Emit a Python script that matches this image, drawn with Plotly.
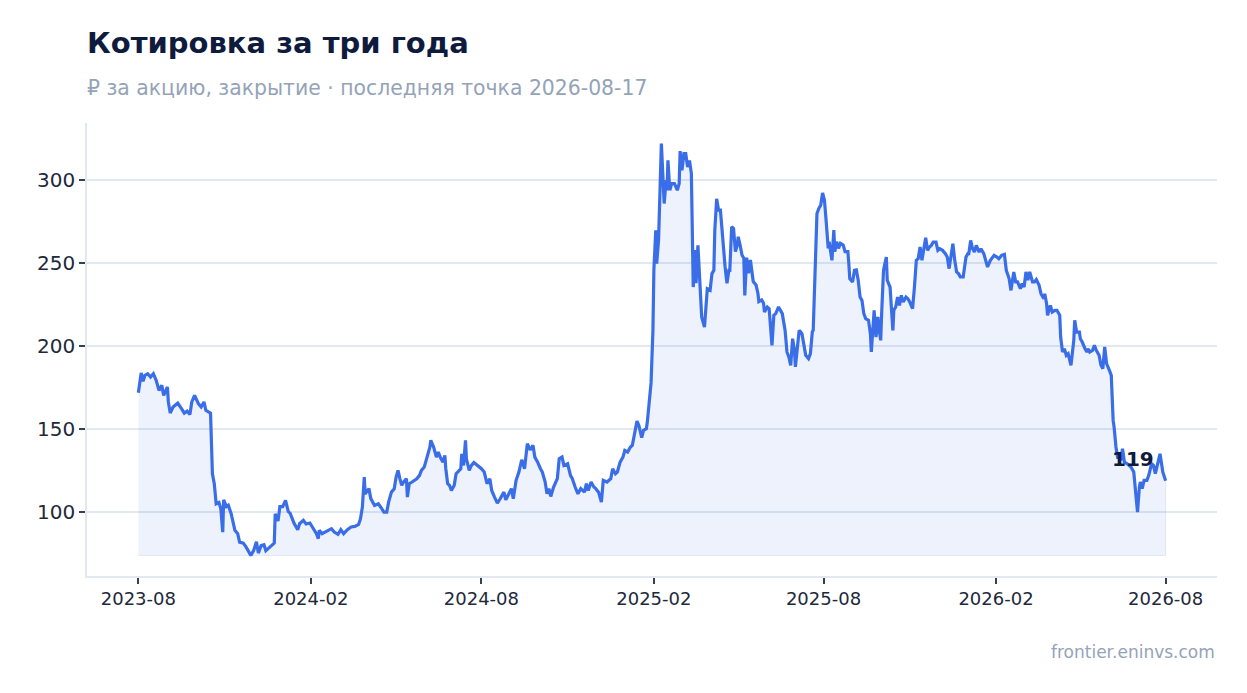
import pandas as pd
import plotly.graph_objects as go

start_date = "2023-08-17"
day_offsets = [
    0, 1, 3, 5, 7, 10, 13, 16, 19, 22,
    25, 27, 31, 32, 34, 37, 42, 46, 49, 52,
    55, 57, 60, 64, 67, 70, 72, 77, 79, 81,
    83, 86, 88, 90, 91, 94, 96, 99, 103, 106,
    108, 112, 115, 120, 123, 126, 128, 131, 134, 136,
    140, 145, 146, 149, 151, 154, 157, 160, 162, 166,
    170, 172, 176, 179, 183, 186, 190, 192, 193, 196,
    200, 206, 209, 213, 216, 219, 223, 227, 231, 235,
    237, 239, 241, 242, 246, 248, 252, 256, 259, 262,
    265, 267, 270, 273, 275, 277, 279, 281, 283, 286,
    287, 289, 292, 295, 297, 300, 302, 305, 308, 311,
    312, 315, 318, 320, 322, 325, 327, 328, 330, 332,
    334, 337, 339, 341, 344, 345, 347, 349, 350, 353,
    355, 358, 362, 366, 369, 372, 375, 377, 380, 383,
    386, 390, 392, 395, 398, 400, 403, 406, 409, 412,
    415, 418, 421, 423, 426, 429, 431, 434, 436, 438,
    440, 443, 447, 449, 452, 454, 458, 461, 463, 466,
    469, 472, 476, 478, 480, 483, 486, 488, 491, 494,
    496, 500, 504, 506, 509, 511, 514, 517, 519, 522,
    525, 527, 529, 532, 534, 537, 539, 542, 543, 545,
    547, 549, 550, 552, 553, 555, 556, 558, 560, 561,
    563, 564, 565, 567, 569, 572, 575, 577, 578, 580,
    582, 584, 586, 588, 590, 591, 592, 594, 595, 597,
    599, 601, 604, 606, 607, 610, 612, 614, 615, 617,
    619, 621, 623, 624, 626, 628, 630, 631, 633, 635,
    637, 639, 640, 642, 644, 646, 647, 649, 651, 653,
    655, 656, 659, 661, 662, 665, 667, 668, 671, 673,
    676, 678, 680, 683, 685, 687, 690, 692, 694, 696,
    698, 700, 701, 703, 705, 708, 710, 712, 715, 717,
    719, 720, 722, 724, 726, 728, 730, 732, 734, 736,
    737, 740, 742, 743, 745, 747, 749, 752, 754, 757,
    758, 759, 762, 764, 766, 768, 770, 772, 774, 776,
    779, 781, 782, 784, 785, 787, 789, 790, 792, 793,
    795, 798, 799, 802, 803, 805, 806, 808, 810, 812,
    814, 816, 819, 821, 823, 826, 828, 830, 832, 834,
    836, 838, 840, 842, 844, 846, 848, 851, 853, 855,
    858, 861, 863, 865, 868, 869, 871, 873, 875, 877,
    880, 881, 883, 885, 886, 888, 890, 892, 894, 897,
    899, 902, 904, 906, 909, 913, 916, 918, 921, 924,
    926, 929, 931, 934, 936, 938, 941, 943, 945, 947,
    949, 951, 954, 956, 958, 961, 963, 966, 967, 969,
    970, 973, 975, 978, 980, 983, 984, 986, 988, 990,
    992, 994, 995, 998, 999, 1001, 1004, 1005, 1007, 1010,
    1012, 1013, 1015, 1018, 1020, 1022, 1025, 1027, 1029, 1031,
    1033, 1036, 1038, 1040, 1041, 1043, 1045, 1046, 1048, 1050,
    1052, 1055, 1059, 1062, 1064, 1066, 1068, 1069, 1071, 1073,
    1076, 1078, 1081, 1083, 1085, 1088, 1090, 1093, 1095, 1096,
]
close = [
    172, 177.5, 184, 179, 182.5, 183.5, 181.5, 183.5, 179.5, 173.5,
    176.5, 170.5, 175.5, 166.5, 159.8, 163.5, 165.8, 162.5, 159.8, 161,
    159, 166.5, 170.5, 165.5, 163.5, 166.5, 161.5, 159.8, 123.3, 117.3,
    105.2, 106, 102.2, 88.1, 107.6, 103.5, 104.3, 99.2, 89.2, 87.2,
    82.1, 81.5, 79.1, 74.1, 77, 82.3, 75.5, 80, 80.5, 77,
    79, 81.5, 99.2, 94.8, 103.5, 103.5, 107.2, 100.4, 99.4, 93.6,
    89.6, 93.2, 95.2, 93, 93.6, 91.2, 87.2, 84.2, 89.2, 87.2,
    88.6, 90.2, 88.2, 86.8, 89.6, 87.2, 89.6, 91.2, 91.6, 92.8,
    96.2, 103.2, 121.3, 111.2, 114.3, 108.3, 104.2, 105.2, 102.8, 100.2,
    100.2, 106.2, 112.2, 114.2, 121.3, 125.3, 120.3, 116.3, 118.3, 120.3,
    109.2, 117.3, 118.3, 119.3, 120.3, 122.3, 125.3, 127.3, 133.3, 139.3,
    143.4, 139.3, 133.3, 136.3, 133.3, 130.3, 134.3, 126.3, 117.3, 116.3,
    113.2, 116.3, 123.3, 124.3, 126.3, 135.3, 128.3, 143.4, 132.3, 125.3,
    128, 130, 128.3, 126.3, 124.3, 117.3, 120.3, 113.2, 109.2, 105.6,
    108.2, 112.2, 107.6, 111.2, 114.3, 108.2, 119.3, 124.3, 131.7, 126.3,
    141.4, 137.7, 140.4, 133.3, 130.3, 126.3, 124.3, 118.3, 111.2, 114.3,
    109.6, 115.3, 120.3, 132.3, 133.3, 128.3, 129.3, 122.3, 120.3, 115.3,
    111.2, 114.3, 112.2, 117.3, 113.2, 118.3, 115.3, 114.3, 112.2, 106.2,
    119.3, 118.3, 120.3, 126.3, 123.3, 124.3, 130.3, 133.3, 137.3, 136.3,
    139.4, 140.4, 147.4, 155, 152.4, 145, 149.4, 150.4, 154.4, 164.5,
    178, 209.6, 245.8, 269.9, 249.8, 264, 290, 322.1, 298, 286,
    300, 294, 312, 294, 298, 298, 294, 298, 317.6, 306,
    316, 316, 308, 312, 304, 260, 235.7, 258, 238, 260.8,
    240, 217.7, 211.6, 230, 234.7, 233.8, 243.8, 245.8, 269.9, 288.9,
    282, 282, 266, 264, 247.8, 238, 245.8, 245.8, 272, 271,
    257, 261, 266, 261, 255, 253, 230.7, 253.4, 244, 252,
    244, 239, 237, 232, 227, 228, 226, 220.7, 223.7, 222.7,
    200.6, 218.7, 219.7, 223.7, 221.7, 219.7, 209.6, 196.6, 193.6, 188.6,
    204.6, 197.6, 187.6, 201.6, 209.6, 207.6, 201.6, 194.6, 192.6, 195.6,
    208.6, 209.6, 245, 280, 283, 285, 292.4, 288, 274, 259,
    263, 251.8, 270, 257, 263, 259, 262, 261, 257, 257,
    249.8, 240.8, 238.8, 245.8, 246, 239.8, 229.7, 227.7, 219.7, 216.7,
    215.7, 207.6, 196.6, 211.6, 221.7, 205.6, 217.7, 211.6, 203.6, 219.7,
    245.8, 253.8, 239.8, 235.7, 223.7, 209.6, 221.7, 223.7, 229.7, 224.7,
    230.7, 226.7, 229.7, 228.7, 226.7, 222.7, 235.7, 251.8, 252.8, 259.8,
    251.8, 257.8, 265.4, 257.8, 259.8, 260.8, 262.8, 262.8, 257.8, 258.8,
    257.8, 255.8, 253.8, 246.8, 256.8, 261.8, 251.8, 244.8, 243.8, 241.8,
    241.8, 246.8, 253.8, 255.8, 255.8, 263.8, 258.8, 256.8, 260.8, 256.8,
    258.8, 255.8, 250.8, 247.8, 251.8, 254.8, 253.8, 252.8, 254.8, 255.4,
    245.8, 240.8, 233.7, 244.8, 238.8, 238.8, 234.7, 237.8, 235.7, 244.8,
    239.8, 244.8, 238.8, 238.8, 240.2, 236.7, 231.7, 228.7, 231.7, 225.7,
    218.7, 224.7, 220.7, 221.7, 221.7, 218.7, 205.6, 196.6, 198.6, 194.6,
    195.6, 190.6, 188.6, 203.6, 215.7, 208.6, 208.6, 204.6, 202.6, 198.6,
    196.6, 198.6, 196.6, 197.6, 200.6, 197.6, 194.6, 188.6, 186.6, 199.6,
    189.6, 185.6, 182.5, 155.4, 151.4, 139.4, 132.3, 135.3, 131.3, 138.4,
    130.3, 129.3, 127.3, 124.3, 113.2, 100.2, 115.3, 118.3, 114.3, 119.3,
    119.3, 122.3, 129.3, 128.3, 123.3, 130.3, 135.3, 124.3, 119.7, 119,
]
tick_labels = ["2023-08", "2024-02", "2024-08", "2025-02", "2025-08", "2026-02", "2026-08"]
y_ticks = [100, 150, 200, 250, 300]

n = min(len(day_offsets), len(close))
dates = pd.Timestamp(start_date) + pd.to_timedelta(day_offsets[:n], unit="D")
vals = close[:n]

LINE = "#3a6ee8"
FILL = "rgba(58,110,232,0.09)"

vmin, vmax = min(vals), max(vals)
ypad = (vmax - vmin) * 0.05
t0, t1 = dates[0], dates[-1]
xpad = (t1 - t0) * 0.05

tick_vals = [pd.Timestamp(lbl + "-" + start_date[-2:]) for lbl in tick_labels]

fig = go.Figure()
# filled area down to the series minimum
fig.add_trace(go.Scatter(
    x=list(dates) + [t1, t0],
    y=list(vals) + [vmin, vmin],
    fill="toself", fillcolor=FILL,
    line=dict(color="rgba(58,110,232,0.12)", width=1),
    mode="lines", hoverinfo="skip", showlegend=False,
))
fig.add_trace(go.Scatter(
    x=dates, y=vals, mode="lines",
    line=dict(color=LINE, width=3.2), showlegend=False,
))

fig.add_annotation(
    x=t1, y=vals[-1], text="<b>%d</b>" % round(vals[-1]),
    showarrow=False, xanchor="right", yanchor="bottom",
    xshift=-10, yshift=8,
    font=dict(size=20, color="#0f1b3d", family="DejaVu Sans"),
)
fig.add_annotation(
    xref="paper", yref="paper", x=0, y=1, xanchor="left", yanchor="middle",
    yshift=80, xshift=-2, text="<b>Котировка за три года</b>", showarrow=False,
    font=dict(size=29, color="#0f1b3d", family="DejaVu Sans"),
)
fig.add_annotation(
    xref="paper", yref="paper", x=0, y=1, xanchor="left", yanchor="middle",
    yshift=35, xshift=-2, text="₽ за акцию, закрытие · последняя точка 2026-08-17", showarrow=False,
    font=dict(size=20.4, color="#94a3b8", family="DejaVu Sans"),
)
fig.add_annotation(
    xref="paper", yref="paper", x=1, y=0, xanchor="right", yanchor="middle",
    yshift=-76, text="frontier.eninvs.com", showarrow=False,
    font=dict(size=17, color="#94a3b8", family="DejaVu Sans"),
)

fig.update_layout(
    width=1239, height=685,
    margin=dict(l=79, r=30, t=115, b=117),
    paper_bgcolor="white", plot_bgcolor="white",
    font=dict(family="DejaVu Sans", color="#1e293b"),
    showlegend=False,
)
fig.update_xaxes(
    range=[t0 - xpad, t1 + xpad],
    tickvals=tick_vals, ticktext=tick_labels,
    showgrid=False, showline=True, linecolor="#e2e8f0", linewidth=1.5,
    ticks="outside", ticklen=6, tickcolor="#334155", tickwidth=1.5,
    tickfont=dict(size=18, color="#1e293b"),
    zeroline=False,
)
fig.update_yaxes(
    range=[vmin - ypad, vmax + ypad],
    tickvals=y_ticks,
    showgrid=True, gridcolor="#e2e8f0", gridwidth=1.5,
    showline=True, linecolor="#e2e8f0", linewidth=1.5,
    ticks="outside", ticklen=6, tickcolor="#334155", tickwidth=1.5,
    tickfont=dict(size=20, color="#1e293b"),
    zeroline=False,
)

fig.write_html("out.html")
